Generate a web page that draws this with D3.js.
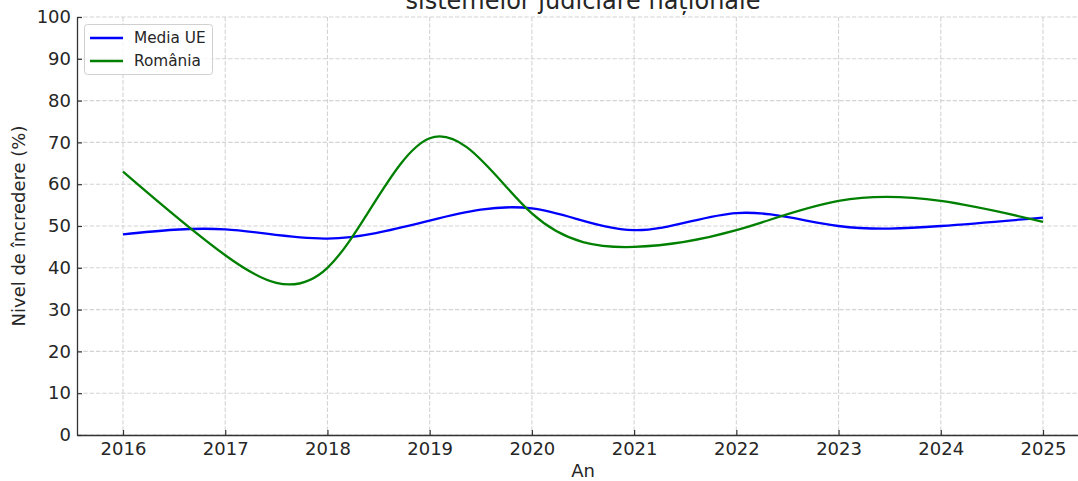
<!DOCTYPE html>
<html>
<head>
<meta charset="utf-8">
<script src="https://cdn.jsdelivr.net/npm/d3@7"></script>
<style>
  html, body { margin: 0; padding: 0; background: #fff; overflow: hidden; }
  svg { display: block; font-family: "DejaVu Sans", sans-serif; }
</style>
</head>
<body>
<script>
const years = [2016, 2017, 2018, 2019, 2020, 2021, 2022, 2023, 2024, 2025]
const mediaUE = [48, 49.2, 47, 51.3, 54.2, 49, 53.1, 50, 50, 52]
const romania = [63, 43, 40, 71, 53, 45, 49, 56, 56, 51]
const seriesNames = ['Media UE', 'România']
const seriesColors = ['blue', 'green']
const yTicks = [0, 10, 20, 30, 40, 50, 60, 70, 80, 90, 100]

const WIDTH = 1078
const HEIGHT = 481

const plot = { left: 77, right: 1089, top: 17, bottom: 435 }

const svg = d3.select('body')
  .append('svg')
  .attr('width', WIDTH)
  .attr('height', HEIGHT)

const xScale = d3.scaleLinear()
  .domain([2015.55, 2025.45])
  .range([plot.left, plot.right])

const yScale = d3.scaleLinear()
  .domain([0, 100])
  .range([plot.bottom, plot.top])

// grid
const grid = svg.append('g')
  .attr('stroke', '#d4d4d4')
  .attr('stroke-width', 1.1)
  .attr('stroke-dasharray', '4.4,1.9')

grid.selectAll('.vgrid')
  .data(years)
  .enter()
  .append('line')
  .attr('x1', d => xScale(d))
  .attr('x2', d => xScale(d))
  .attr('y1', plot.top)
  .attr('y2', plot.bottom)

grid.selectAll('.hgrid')
  .data(yTicks)
  .enter()
  .append('line')
  .attr('x1', plot.left)
  .attr('x2', plot.right)
  .attr('y1', d => yScale(d))
  .attr('y2', d => yScale(d))

// lines
const line = d3.line()
  .x((d, i) => xScale(years[i]))
  .y(d => yScale(d))
  .curve(d3.curveNatural)

svg.selectAll('.series')
  .data([mediaUE, romania])
  .enter()
  .append('path')
  .attr('d', d => line(d))
  .attr('fill', 'none')
  .attr('stroke', (d, i) => seriesColors[i])
  .attr('stroke-width', 2.3)

// axes
const xAxis = d3.axisBottom(xScale)
  .tickValues(years)
  .tickFormat(d3.format('d'))
  .tickSizeInner(-5)
  .tickSizeOuter(0)
  .tickPadding(7)

const yAxis = d3.axisLeft(yScale)
  .tickValues(yTicks)
  .tickSizeInner(-5)
  .tickSizeOuter(0)
  .tickPadding(6)

const gx = svg.append('g')
  .attr('transform', 'translate(0,' + plot.bottom + ')')
  .call(xAxis)

const gy = svg.append('g')
  .attr('transform', 'translate(' + plot.left + ',0)')
  .call(yAxis)

;[gx, gy].forEach(g => {
  g.attr('font-family', '"DejaVu Sans", sans-serif')
    .attr('font-size', 18)
  g.select('.domain').attr('stroke', '#333').attr('stroke-width', 1.3)
  g.selectAll('.tick line').attr('stroke', '#333').attr('stroke-width', 1.2)
  g.selectAll('.tick text').attr('fill', '#262626')
})

// labels
svg.append('text')
  .attr('x', (plot.left + plot.right) / 2)
  .attr('y', 477)
  .attr('text-anchor', 'middle')
  .attr('font-size', 18)
  .attr('fill', '#262626')
  .text('An')

svg.append('text')
  .attr('transform', 'rotate(-90)')
  .attr('x', -(plot.top + plot.bottom) / 2)
  .attr('y', 25)
  .attr('text-anchor', 'middle')
  .attr('font-size', 18)
  .attr('fill', '#262626')
  .text('Nivel de încredere (%)')

svg.append('text')
  .attr('x', (plot.left + plot.right) / 2)
  .attr('y', 9)
  .attr('text-anchor', 'middle')
  .attr('font-size', 24)
  .attr('fill', '#262626')
  .text('sistemelor judiciare naționale')

// legend
const legend = svg.append('g')

legend.append('rect')
  .attr('x', 84.5)
  .attr('y', 24.5)
  .attr('width', 128)
  .attr('height', 50)
  .attr('rx', 3)
  .attr('fill', 'white')
  .attr('fill-opacity', 0.8)
  .attr('stroke', '#d0d0d0')
  .attr('stroke-width', 1)

legend.selectAll('line')
  .data(seriesNames)
  .enter()
  .append('line')
  .attr('x1', 90)
  .attr('x2', 123)
  .attr('y1', (d, i) => 38 + i * 23)
  .attr('y2', (d, i) => 38 + i * 23)
  .attr('stroke', (d, i) => seriesColors[i])
  .attr('stroke-width', 2.3)

legend.selectAll('text')
  .data(seriesNames)
  .enter()
  .append('text')
  .attr('x', 134)
  .attr('y', (d, i) => 43.3 + i * 23)
  .attr('font-size', 15.3)
  .attr('fill', '#262626')
  .text(d => d)
</script>
</body>
</html>
